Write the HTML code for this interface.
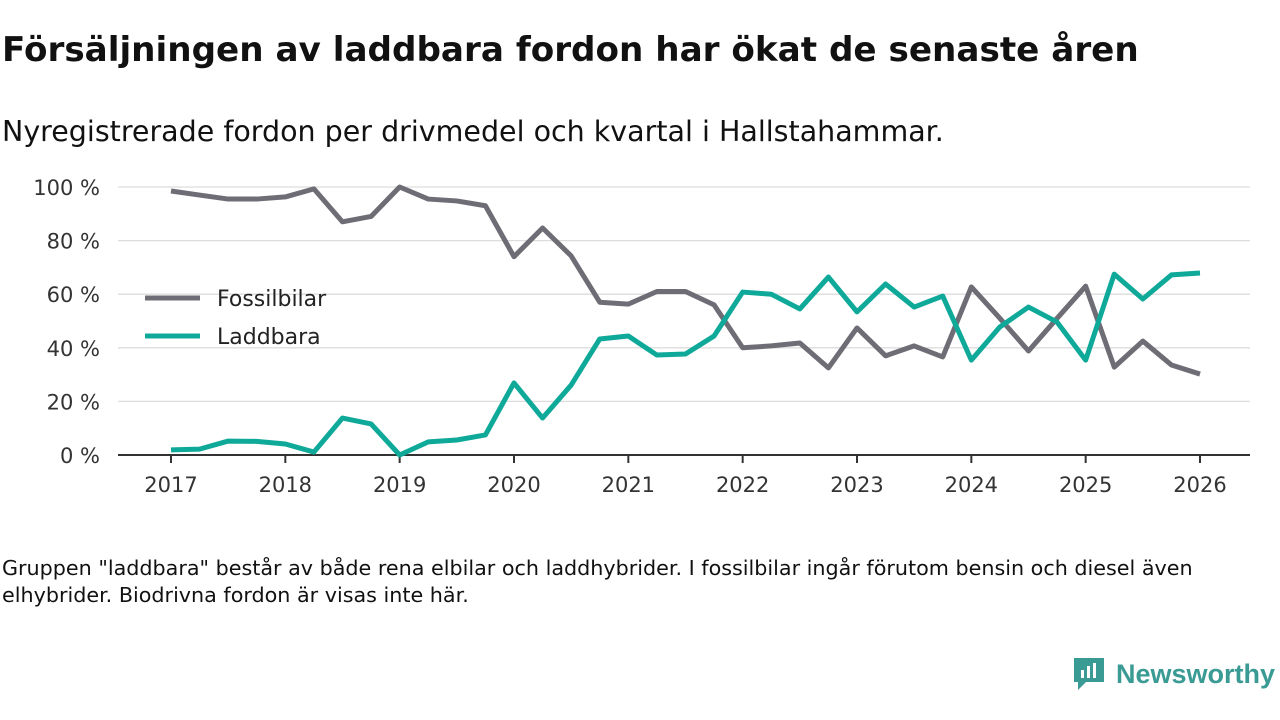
<!DOCTYPE html>
<html><head><meta charset="utf-8"><style>
body{margin:0;width:1280px;height:720px;background:#fff;font-family:"DejaVu Sans","Liberation Sans",sans-serif;overflow:hidden;position:relative;color:#111}
.t{position:absolute;left:2px;top:30px;font-size:34.2px;font-weight:bold;white-space:nowrap}
.s{position:absolute;left:2px;top:115px;font-size:28.5px;white-space:nowrap}
.n{position:absolute;left:2px;top:555px;font-size:20.7px;line-height:27px;width:1240px}
.logo{position:absolute;left:1072px;top:656px;display:flex;align-items:center;color:#3a9a94;font-size:27px;font-weight:bold;font-family:"Liberation Sans",sans-serif;white-space:nowrap}
</style></head><body>
<div class="t">Försäljningen av laddbara fordon har ökat de senaste åren</div>
<div class="s">Nyregistrerade fordon per drivmedel och kvartal i Hallstahammar.</div>
<svg id="c" width="1280" height="720" style="position:absolute;left:0;top:0"></svg>
<div class="n">Gruppen "laddbara" består av både rena elbilar och laddhybrider. I fossilbilar ingår förutom bensin och diesel även elhybrider. Biodrivna fordon är visas inte här.</div>
<div class="logo"><svg width="34" height="36" viewBox="0 0 34 36"><path d="M2 2h30v24H14l-8 8v-8H2z" fill="#3a9a94"/><rect x="9" y="14" width="3" height="8" fill="#fff"/><rect x="15" y="10" width="3" height="12" fill="#fff"/><rect x="21" y="7" width="3" height="15" fill="#fff"/></svg><span style="margin-left:10px">Newsworthy</span></div>
<script>
const years=["2017","2018","2019","2020","2021","2022","2023","2024","2025","2026"];
const yTicks=[0,20,40,60,80,100];
const fossil=[98.5,97,95.5,95.5,96.3,99.3,87,89,100,95.5,94.8,93,74,84.7,74.3,57,56.3,61,61,56,40,40.7,41.8,32.5,47.4,37,40.7,36.6,62.7,51,38.8,51,63,32.8,42.5,33.6,30.2];
const ladd=[1.9,2.2,5.2,5.1,4.1,1.1,13.8,11.6,0,4.9,5.6,7.5,26.9,13.8,26.1,43.3,44.4,37.3,37.7,44.4,60.8,60,54.5,66.4,53.4,63.8,55.2,59.3,35.4,47.8,55.2,49.6,35.4,67.5,58.2,67.2,67.9];
const NS="http://www.w3.org/2000/svg",svg=document.getElementById('c');
const x=t=>171+t*(1200-171)/9, y=v=>455-v*2.68;
function el(tag,a,p){const e=document.createElementNS(NS,tag);for(const k in a)e.setAttribute(k,a[k]);(p||svg).appendChild(e);return e;}
yTicks.forEach(v=>{
 const g=el('line',{x1:118,x2:1250,y1:y(v),y2:y(v),stroke:v?'#ddd':'#333','stroke-width':v?1.3:2});
 
 
 const t=el('text',{x:100,y:y(v)+8,'text-anchor':'end','font-size':21,fill:'#333'});t.textContent=v+' %';
 
 
});
years.forEach((yr,i)=>{
 const tk=el('line',{x1:x(i),x2:x(i),y1:455,y2:463,stroke:'#333','stroke-width':2});
 
 
 const t=el('text',{x:x(i),y:492,'text-anchor':'middle','font-size':21,fill:'#333'});t.textContent=yr;
 
 
});
function line(d,c,n){
 const p=el('polyline',{points:d.map((v,i)=>x(i/4)+','+y(v)).join(' '),fill:'none',stroke:c,'stroke-width':5,'stroke-linejoin':'round'});
 
 
}
line(fossil,'#6e6d75','fossilbilar-line');
line(ladd,'#0fa99a','laddbara-line');
[['Fossilbilar','#6e6d75',298],['Laddbara','#0fa99a',336]].forEach(([l,c,yy])=>{
 const g=el('g',{});
 
 
 el('line',{x1:145,x2:200,y1:yy,y2:yy,stroke:c,'stroke-width':5},g);
 const t=el('text',{x:217,y:yy+8,'font-size':22,fill:'#222'},g);t.textContent=l;
});
</script>
</body></html>
